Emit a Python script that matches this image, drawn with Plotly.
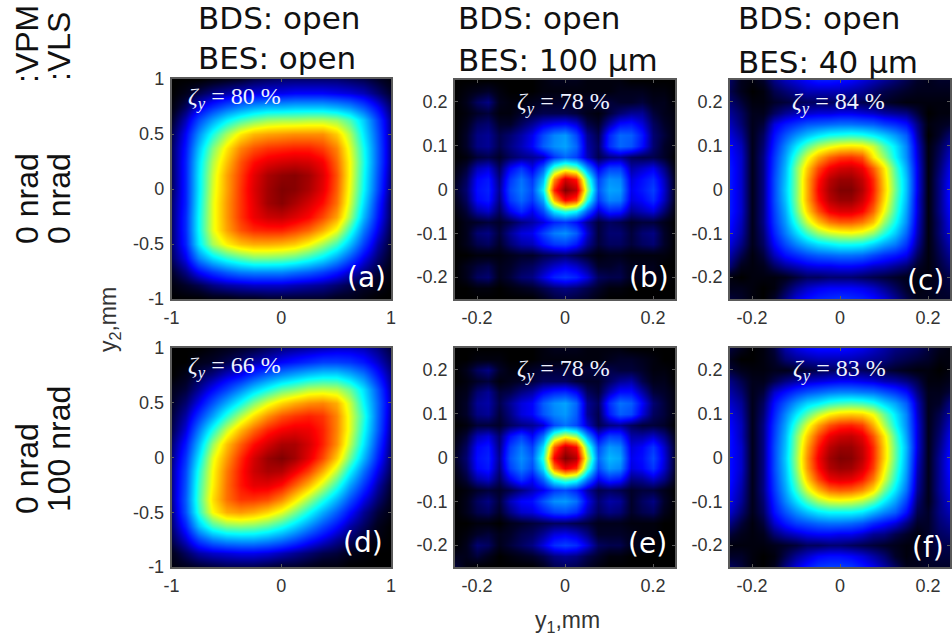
import plotly.graph_objects as go

W, H = 952, 642

coords_wide = [-1, -.875, -.75, -.625, -.5, -.375, -.25, -.125, 0, .125, .25, .375, .5, .625, .75, .875, 1]
coords_narrow = [-.25, -.225, -.2, -.175, -.15, -.125, -.1, -.075, -.05, -.025, 0, .025, .05, .075, .1, .125, .15, .175, .2, .225, .25]

# Rows run from the top of each panel (largest y2) to the bottom.
z_a = [
[0,0,0,1,2,3,5,6,7,7,7,7,7,6,5,3,1],
[0,2,5,8,10,12,13,14,14,15,15,15,14,13,11,7,3],
[1,6,13,19,24,28,31,33,33,34,34,34,32,29,23,15,6],
[3,11,22,31,39,45,49,52,53,53,54,54,52,46,35,21,8],
[5,15,29,42,53,62,67,69,70,71,71,71,65,54,38,23,8],
[6,17,34,50,62,72,77,80,81,82,82,79,72,58,41,24,8],
[6,18,37,54,66,77,84,88,90,91,90,86,75,60,42,24,8],
[6,18,38,56,69,79,88,95,98,99,96,89,77,60,41,23,7],
[6,18,38,57,69,80,89,96,100,99,95,88,76,59,40,22,6],
[7,18,39,58,70,80,88,96,99,95,90,84,74,57,37,19,5],
[7,19,40,58,70,80,87,91,92,89,85,78,69,53,33,17,5],
[7,19,40,58,69,77,81,82,82,79,75,68,59,44,27,14,4],
[7,18,38,53,61,66,68,68,67,65,60,53,45,34,21,10,3],
[6,14,28,37,43,47,50,50,49,47,43,38,31,23,14,7,2],
[3,8,15,20,24,27,28,28,28,26,24,21,17,12,8,4,1],
[1,3,5,8,10,11,12,12,12,11,10,9,7,5,3,2,0],
[0,0,0,1,1,2,2,3,3,3,3,3,2,2,1,0,0],
]
z_d = [
[0,0,0,1,2,3,4,6,8,9,10,11,12,12,11,8,4],
[0,0,2,3,5,7,10,12,15,17,19,21,21,20,17,12,6],
[0,2,5,8,12,15,20,25,29,32,35,37,37,33,27,17,8],
[2,4,9,15,21,28,35,41,47,50,54,55,54,48,37,23,9],
[3,7,14,23,32,41,50,58,64,68,71,72,68,56,40,25,10],
[4,10,20,31,43,54,63,71,77,80,82,80,72,58,43,25,9],
[5,13,27,42,56,67,75,82,86,88,87,82,72,58,41,24,8],
[7,17,33,52,66,76,84,90,95,95,90,82,71,55,38,21,7],
[8,20,38,58,70,81,90,97,100,96,88,78,65,49,33,18,6],
[9,22,42,60,73,83,91,95,94,87,79,68,55,40,26,14,5],
[9,23,44,61,74,83,88,88,84,76,67,56,44,31,20,10,3],
[9,24,45,63,74,80,80,78,72,63,53,43,33,23,14,7,2],
[8,23,43,60,68,70,68,64,58,50,41,32,24,16,9,4,1],
[7,18,34,45,50,51,50,47,42,36,29,22,16,10,6,2,0],
[5,12,21,27,30,31,31,29,26,22,17,13,9,6,3,1,0],
[2,6,10,12,13,14,14,13,11,9,7,5,4,2,1,0,0],
[1,2,3,4,5,5,5,4,3,3,2,1,1,0,0,0,0],
]
z_b = [
[0,0,0,0,0,0,0,0,1,2,2,2,1,1,1,1,0,0,0,0,0],
[0,1,2,3,1,0,0,0,1,1,1,1,1,1,1,2,2,2,1,1,0],
[0,2,6,8,2,1,1,2,3,3,3,3,3,4,4,3,3,4,2,2,0],
[0,1,3,4,1,1,3,4,5,5,5,4,2,1,4,7,9,9,4,2,1],
[0,2,6,7,3,3,6,9,13,15,16,13,5,3,10,16,17,13,6,3,1],
[0,3,8,9,5,7,10,14,22,28,30,22,9,5,18,25,24,17,7,4,1],
[0,3,8,9,5,8,11,15,24,29,31,25,10,6,19,25,23,16,7,3,1],
[0,1,4,5,3,6,8,9,11,20,25,21,11,5,8,9,6,5,5,3,0],
[1,4,11,13,6,15,20,14,24,46,54,49,29,14,21,21,10,12,14,8,1],
[2,6,15,17,8,20,26,20,33,71,90,83,46,21,29,28,13,16,19,11,2],
[3,7,16,18,9,22,27,22,39,82,100,93,53,23,31,30,14,17,21,12,2],
[2,6,15,17,8,20,25,20,31,67,85,79,43,20,28,27,13,15,19,11,2],
[1,4,10,12,6,14,19,14,22,38,44,40,24,12,18,17,9,11,13,7,1],
[0,2,3,4,3,5,8,10,13,18,20,16,9,4,6,5,3,4,4,2,0],
[0,2,7,8,4,9,13,14,21,27,29,24,12,4,7,7,4,7,8,3,0],
[0,2,5,6,3,7,10,11,16,20,21,17,9,4,6,6,4,6,7,3,0],
[0,0,1,1,1,2,3,3,5,6,7,5,3,1,2,2,1,1,1,1,0],
[0,2,4,5,2,3,5,6,9,12,14,12,8,3,3,4,2,2,2,0,0],
[0,2,6,7,2,4,7,8,13,18,20,18,13,6,5,5,2,2,2,1,0],
[0,0,1,1,0,1,2,3,5,7,8,7,5,3,1,1,0,0,0,0,0],
[0,0,0,0,0,0,0,0,2,4,5,4,3,1,0,0,0,0,0,0,0],
]
z_e = [
[0,0,0,0,0,0,0,0,1,2,2,2,1,1,1,1,0,0,0,0,0],
[0,0,1,1,1,0,0,0,1,1,1,1,1,1,2,3,3,2,1,0,0],
[0,2,6,8,3,1,1,3,4,4,4,4,4,4,5,4,4,3,1,1,0],
[0,1,3,4,1,2,3,4,6,6,6,4,3,3,6,9,10,5,2,2,0],
[1,2,7,9,4,5,8,10,15,18,19,15,6,4,11,16,16,10,4,3,1],
[1,3,9,10,5,9,13,15,24,29,31,25,9,6,19,26,24,15,7,4,1],
[1,3,8,9,4,8,13,15,23,28,30,24,9,5,17,24,22,13,6,4,1],
[0,1,4,4,3,6,8,9,12,22,26,22,12,5,8,9,6,4,4,3,0],
[1,4,11,13,7,16,21,15,26,49,58,52,30,14,21,20,10,10,12,8,2],
[2,6,15,17,8,21,27,21,37,76,92,85,47,22,30,28,13,15,20,12,3],
[3,7,16,18,9,23,29,24,43,86,100,94,55,25,33,31,14,16,22,13,3],
[2,6,15,17,8,21,27,22,37,73,87,81,46,22,30,28,13,15,20,12,3],
[1,4,10,12,6,14,20,15,25,42,48,44,27,14,19,17,8,9,12,8,2],
[0,1,3,4,3,5,8,11,14,20,22,18,10,5,6,5,3,4,4,2,0],
[0,2,6,8,4,11,15,16,23,29,30,26,14,7,10,9,3,6,8,3,0],
[0,2,5,6,3,8,12,13,17,21,22,19,11,6,8,7,3,5,6,2,0],
[0,0,1,1,0,2,3,4,5,6,6,5,4,2,2,2,1,1,1,0,0],
[0,1,3,4,2,3,5,6,9,13,14,12,8,3,3,3,2,1,1,0,0],
[0,2,7,6,2,4,6,8,13,19,21,19,13,6,5,5,2,2,1,0,0],
[2,2,4,2,0,1,2,3,5,8,9,8,5,3,1,1,0,0,0,0,0],
[4,1,0,0,0,0,0,0,2,5,6,5,3,1,0,0,0,0,0,0,0],
]
z_c = [
[6,2,1,3,8,11,13,15,17,17,16,15,13,11,9,7,5,3,2,3,3],
[5,2,0,1,5,7,9,11,11,11,11,10,9,7,5,4,3,2,2,2,2],
[7,4,1,1,3,4,5,6,6,6,6,6,5,4,3,2,1,1,1,1,1],
[9,6,2,2,6,9,11,12,13,13,14,14,13,12,10,9,8,4,0,1,1],
[11,7,2,4,13,17,20,23,24,25,26,26,25,24,21,19,16,8,1,2,3],
[13,9,2,6,16,23,29,34,38,41,42,43,42,39,35,30,24,10,0,3,7],
[15,11,2,7,18,28,38,47,54,58,61,62,61,56,46,38,28,12,1,5,10],
[16,12,2,8,20,31,45,58,68,75,79,80,77,62,52,40,29,13,1,6,12],
[17,12,2,8,21,33,50,65,78,86,90,91,87,76,62,46,32,14,1,7,14],
[17,12,2,8,22,34,50,68,83,93,97,97,92,81,64,48,34,14,1,8,15],
[17,12,2,8,22,35,50,68,85,95,100,100,94,82,65,49,34,14,1,8,16],
[17,12,2,8,22,34,50,68,83,93,97,97,91,80,63,47,33,13,1,8,16],
[17,12,2,8,21,32,48,64,77,86,89,89,85,75,59,45,31,13,1,8,15],
[16,11,2,8,20,30,43,56,66,73,76,76,73,66,52,41,29,12,1,7,14],
[15,10,2,7,18,27,36,45,52,56,58,59,57,52,43,35,25,11,1,7,13],
[13,8,2,6,15,22,28,33,37,39,41,41,40,36,31,27,20,9,1,6,11],
[10,5,1,4,11,16,19,22,24,25,26,26,25,22,19,17,14,6,1,5,9],
[7,2,1,2,6,9,11,13,14,14,15,15,14,12,11,9,7,3,1,4,7],
[1,0,1,1,1,2,4,6,6,7,7,7,6,5,4,3,2,1,1,3,5],
[2,2,1,0,1,5,9,12,14,15,15,15,14,12,9,6,3,1,2,3,4],
[4,3,1,0,3,8,13,16,18,19,20,19,18,16,13,9,5,2,2,3,3],
]
z_f = [
[4,2,0,1,4,10,13,15,16,16,16,15,14,12,10,8,7,6,4,2,1],
[2,0,0,1,3,7,9,10,11,11,11,11,10,9,8,6,5,4,3,1,1],
[4,2,1,1,2,2,3,4,5,6,6,6,6,5,4,3,2,1,1,0,1],
[8,5,2,2,5,8,10,12,13,14,15,15,14,13,11,10,8,5,1,1,2],
[10,7,2,4,12,16,20,23,25,27,28,28,27,26,23,20,16,8,2,2,4],
[12,9,2,6,16,23,30,36,39,43,45,46,45,42,36,31,24,11,2,3,8],
[14,10,2,7,18,28,38,47,55,61,64,65,64,59,48,38,28,12,2,5,10],
[15,11,2,8,20,31,45,58,69,77,81,82,79,68,54,41,29,13,2,6,12],
[16,11,2,8,21,33,50,65,78,87,91,92,88,77,62,46,31,13,2,7,14],
[16,12,2,8,22,34,51,69,83,93,97,97,92,81,64,48,33,13,2,8,15],
[16,12,2,8,22,35,52,71,86,96,100,99,93,81,64,48,32,12,2,9,16],
[16,12,2,8,22,34,51,70,84,94,97,96,90,79,61,46,31,11,2,9,16],
[16,11,2,8,21,33,48,65,78,87,89,88,83,73,57,43,29,10,2,9,15],
[15,10,2,8,20,31,44,57,67,74,76,75,71,63,49,38,26,9,2,9,14],
[14,9,2,7,18,28,37,46,53,57,58,57,54,48,39,31,21,7,2,8,13],
[12,7,2,6,16,23,29,34,38,40,40,40,38,33,28,24,16,5,3,8,11],
[8,4,1,4,12,17,21,23,25,26,26,25,23,19,16,13,8,3,3,7,9],
[4,2,1,2,7,10,12,14,15,15,14,14,12,9,8,5,3,1,3,6,7],
[1,1,1,1,2,3,4,6,6,7,7,6,5,4,3,2,1,1,3,5,5],
[3,3,1,0,1,5,9,12,15,16,16,15,13,10,7,3,1,2,3,4,4],
[6,4,1,0,2,8,13,17,20,21,21,20,17,14,10,6,2,2,3,3,3],
]

ticks_wide_x = [-1, 0, 1]
ticks_wide_y = [-1, -0.5, 0, 0.5, 1]
ticks_narrow_x = [-0.2, 0, 0.2]
ticks_narrow_y = [-0.2, -0.1, 0, 0.1, 0.2]

panel_letters = ["(a)", "(b)", "(c)", "(d)", "(e)", "(f)"]
zeta_values = ["80", "78", "84", "66", "78", "83"]
head_top = ["BDS: open", "BDS: open", "BDS: open"]
head_bottom = ["BES: open", "BES: 100 µm", "BES: 40 µm"]

jet_black = [
    [0.00, "rgb(0,0,0)"], [0.03, "rgb(0,0,40)"], [0.08, "rgb(0,0,130)"],
    [0.15, "rgb(0,0,255)"], [0.40, "rgb(0,255,255)"], [0.60, "rgb(255,255,0)"],
    [0.85, "rgb(255,0,0)"], [1.00, "rgb(128,0,0)"],
]

boxes = [
    (171.5, 391, 79, 299), (455, 675, 80, 299), (730, 950, 80, 299),
    (171.5, 391, 348, 567), (455, 675, 348, 567), (730, 950, 348, 567),
]
grids = [z_a, z_b, z_c, z_d, z_e, z_f]

def px(x):
    return x / W

def py(y):
    return 1 - y / H

fig = go.Figure()
for i, (box, z) in enumerate(zip(boxes, grids)):
    n = "" if i == 0 else str(i + 1)
    wide = i in (0, 3)
    c = coords_wide if wide else coords_narrow
    fig.add_trace(go.Heatmap(
        x=c, y=c, z=z[::-1], xaxis="x" + n, yaxis="y" + n,
        zmin=0, zmax=100, colorscale=jet_black, showscale=False, zsmooth="best",
    ))
    rng = [-1, 1] if wide else [-0.25, 0.25]
    common = dict(range=rng, showgrid=False, zeroline=False, showline=True, mirror="ticks",
                  linecolor="#5a5a5a", linewidth=1.5, ticks="inside", ticklen=3, tickwidth=1,
                  tickcolor="#5a5a5a", ticklabelstandoff=2,
                  tickfont=dict(family="Liberation Sans", size=18, color="#333333"))
    fig.layout["xaxis" + n] = dict(common, domain=[px(box[0]), px(box[1])], anchor="y" + n,
                                   tickmode="array", tickvals=ticks_wide_x if wide else ticks_narrow_x,
                                   ticktext=[str(v) for v in (ticks_wide_x if wide else ticks_narrow_x)])
    fig.layout["yaxis" + n] = dict(common, domain=[py(box[3]), py(box[2])], anchor="x" + n,
                                   tickmode="array", tickvals=ticks_wide_y if wide else ticks_narrow_y,
                                   ticktext=[str(v) for v in (ticks_wide_y if wide else ticks_narrow_y)])

notes = []

def note(text, x, y, size, color="#111111", family="Liberation Sans", angle=0, anchor="center"):
    notes.append(dict(text=text, x=px(x), y=py(y), xref="paper", yref="paper", showarrow=False,
                      xanchor=anchor, yanchor="middle", textangle=angle,
                      font=dict(family=family, size=size, color=color)))

for top, bottom, lx, y2 in zip(head_top, head_bottom, [196, 456, 736], [58, 60, 62]):
    note(top, lx, 18, 31, family="DejaVu Sans", anchor="left")
    note(bottom, lx, y2, 31, family="DejaVu Sans", anchor="left")

zeta_xy = [(234, 98), (563, 103), (838, 103), (234, 367), (563, 370), (839, 370)]
for val, (x, y) in zip(zeta_values, zeta_xy):
    note("<i>ζ<sub>y</sub></i> = " + val + " %", x, y, 24, color="#eef2ff", family="Liberation Serif")

letter_xy = [(366, 277), (649, 277), (925, 280), (363, 542), (647, 543), (928, 547)]
for letter, (x, y) in zip(panel_letters, letter_xy):
    note(letter, x, y, 28, color="white", family="DejaVu Sans")

note(":VPM", 27, 44, 32, angle=-90)
note(":VLS", 59, 47, 32, angle=-90)
note("0 nrad", 27, 199, 32, angle=-90)
note("0 nrad", 59, 199, 32, angle=-90)
note("0 nrad", 27, 469, 32, angle=-90)
note("100 nrad", 59, 449, 32, angle=-90)
note("y<sub>2</sub>,mm", 109, 320, 23, color="#333333", angle=-90)
note("y<sub>1</sub>,mm", 567, 621, 23, color="#333333")

fig.update_layout(width=W, height=H, autosize=False,
                  margin=dict(l=0, r=0, t=0, b=0, autoexpand=False),
                  paper_bgcolor="white", plot_bgcolor="black", annotations=notes, showlegend=False)
fig.write_html("out.html", config={"displayModeBar": False},
               post_script="document.body.style.margin='0';document.body.style.overflow='hidden';")
